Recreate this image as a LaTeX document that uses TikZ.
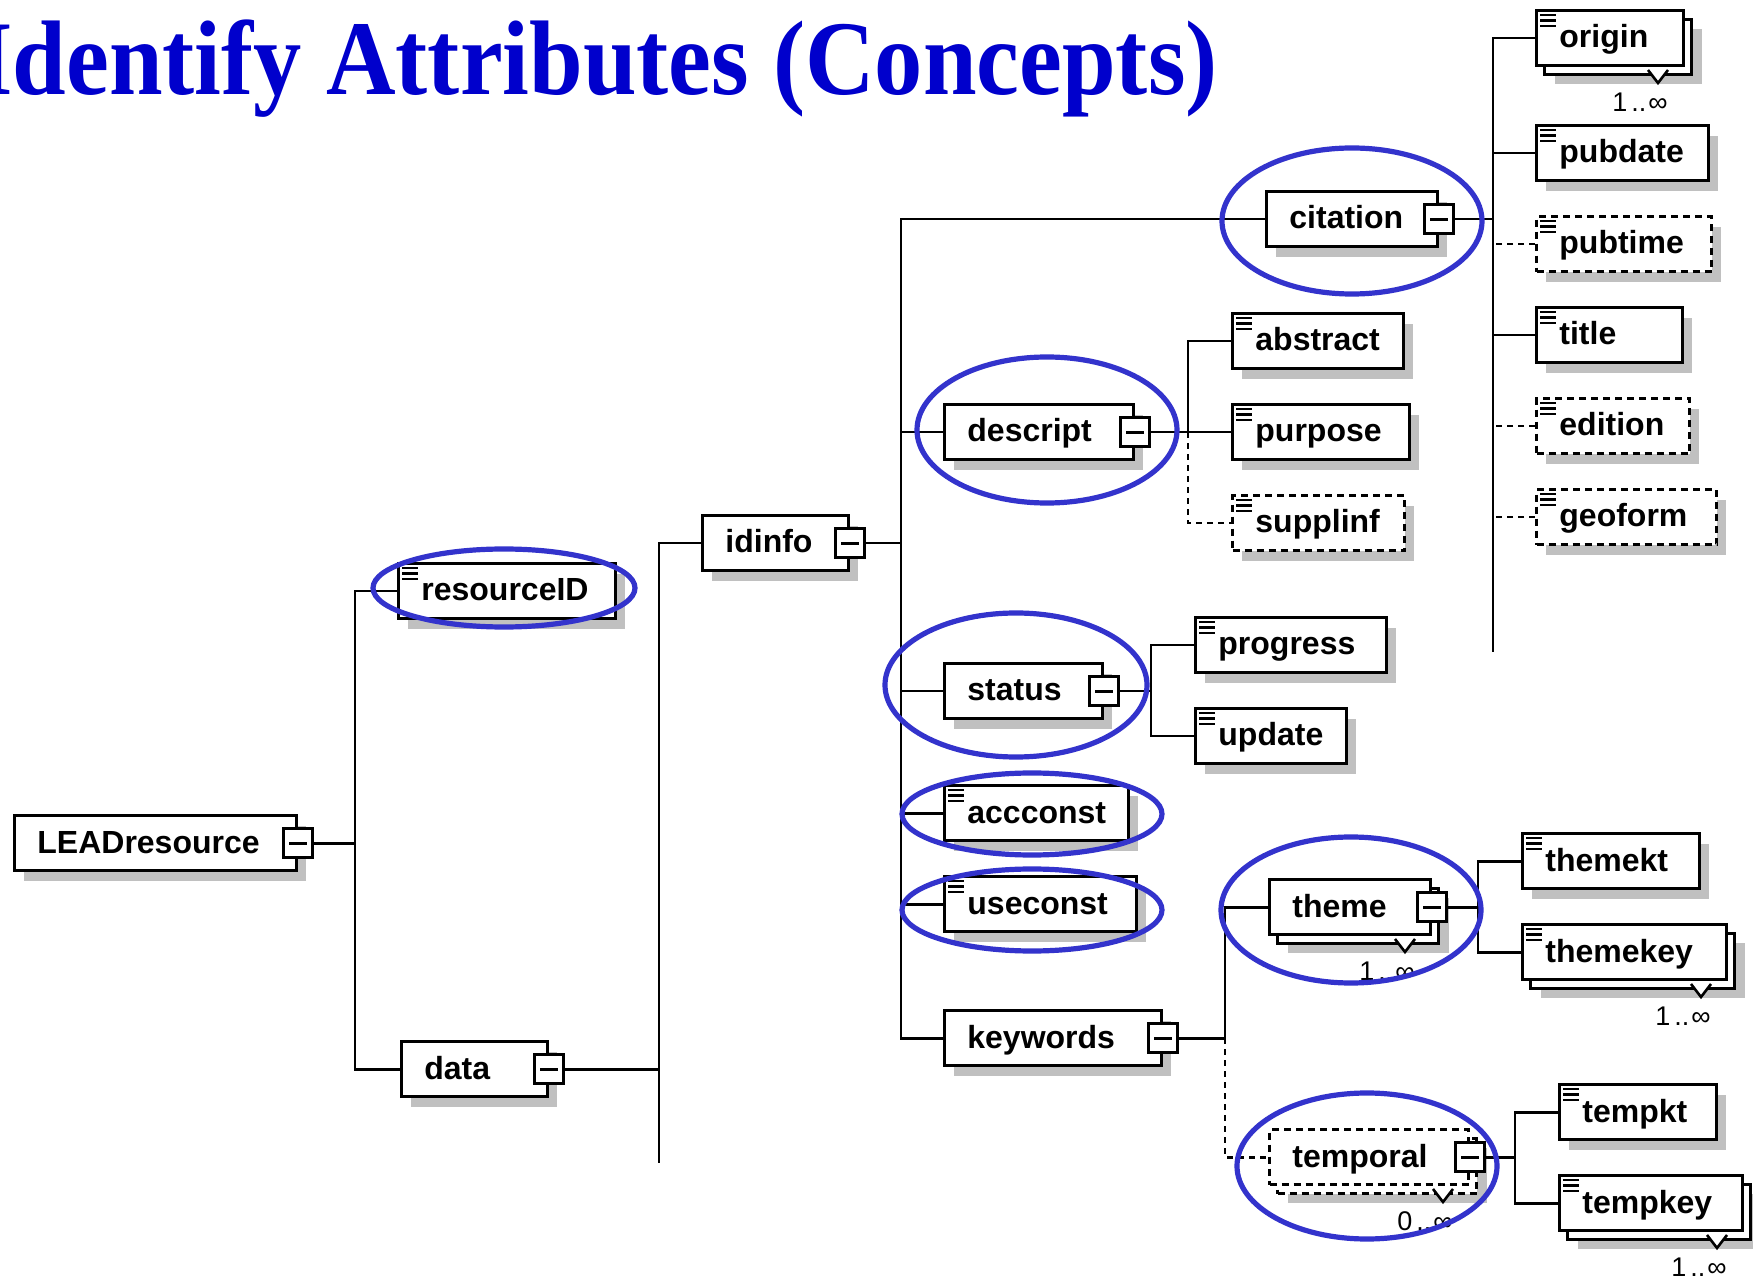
\documentclass[tikz,border=0pt]{standalone}
\usepackage{fontspec}
\setmainfont{Liberation Sans}
\newfontfamily\titlefont{Liberation Serif}
\usepackage{graphicx}
\definecolor{shadowc}{RGB}{192,192,192}
\definecolor{hiblue}{RGB}{51,51,204}
\definecolor{titleblue}{RGB}{0,0,204}
% element box: [opts]{name}{x}{y}{w}{text}
\newcommand\elem[6][]{%
  \fill[shadowc] (#3+11,#4+12) rectangle (#3+#5+11,#4+67);
  \node[ebox,#1,minimum width=#5*0.5pt] (#2) at (#3,#4) {};
  \node[etext] (#2-t) at (#3+24,#4+39) {#6};
}
% repeated element: [opts]{name}{x}{y}{w}{text}{multiplicity}
\newcommand\stackel[7][]{%
  \fill[shadowc] (#3+20,#4+20) rectangle (#3+#5+20,#4+75);
  \node[ebox,#1,minimum width=#5*0.5pt] (#2-b) at (#3+8,#4+9) {};
  \draw[line width=1.3pt,fill=white] (#3+#5-34,#4+61) -- (#3+#5-24,#4+74) -- (#3+#5-14,#4+61);
  \node[ebox,#1,minimum width=#5*0.5pt] (#2) at (#3,#4) {};
  \node[etext] (#2-t) at (#3+24,#4+39) {#6};
  \node[mult] (#2-n) at (#3+#5-14,#4+93) {#7};
}
\newcommand\icon[2]{%
  \draw[line width=1.3pt] (#1+5,#2+6) -- ++(16,0) (#1+5,#2+11.5) -- ++(16,0) (#1+5,#2+17) -- ++(16,0);
}
\begin{document}
\begin{tikzpicture}[x=0.5pt,y=-0.5pt,
  ebox/.style={draw,fill=white,line width=1.7pt,minimum height=27.5pt,inner sep=0pt,anchor=north west},
  optbox/.style={dash pattern=on 3.5pt off 2.5pt},
  etext/.style={font=\fontsize{16}{19}\selectfont\bfseries,inner sep=0pt,anchor=base west},
  minusb/.style={draw,fill=white,line width=1.5pt,minimum size=14.5pt,inner sep=0pt,
    path picture={\draw[line width=1.4pt] ([xshift=-4.5pt]path picture bounding box.center) -- ([xshift=4.5pt]path picture bounding box.center);}},
  conn/.style={line width=1.3pt},
  dconn/.style={conn,dash pattern=on 3pt off 2.5pt},
  hilite/.style={draw=hiblue,line width=2.6pt},
  mult/.style={font=\fontsize{13.5}{15}\selectfont,inner sep=0pt,anchor=east}]
\fill[white] (0,0) rectangle (1753,1278);
\useasboundingbox (0,0) rectangle (1753,1278);

\node[anchor=base west,inner sep=0pt,text=titleblue] (heading) at (-25,95)
  {\scalebox{1}[1.1]{\titlefont\bfseries\fontsize{48.2}{50}\selectfont Identify Attributes (Concepts)}};

% elements
\elem{LEAD}{13}{814}{282}{LEADresource}
\elem{resourceID}{397}{562}{217}{resourceID}\icon{397}{562}
\elem{data}{400}{1040}{146}{data}
\elem{idinfo}{701}{514}{146}{idinfo}
\elem{citation}{1265}{190}{171}{citation}
\elem{descript}{943}{403}{189}{descript}
\elem{status}{943}{662}{158}{status}
\elem{accconst}{943}{784}{184}{accconst}\icon{943}{784}
\elem{useconst}{943}{875}{192}{useconst}\icon{943}{875}
\elem{keywords}{943}{1009}{217}{keywords}
\stackel{origin}{1535}{9}{147}{origin}{1\kern2pt..\kern1pt∞}\icon{1535}{9}
\elem{pubdate}{1535}{124}{172}{pubdate}\icon{1535}{124}
\elem[optbox]{pubtime}{1535}{215}{175}{pubtime}\icon{1535}{215}
\elem{title}{1535}{306}{146}{title}\icon{1535}{306}
\elem[optbox]{edition}{1535}{397}{153}{edition}\icon{1535}{397}
\elem[optbox]{geoform}{1535}{488}{180}{geoform}\icon{1535}{488}
\elem{abstract}{1231}{312}{171}{abstract}\icon{1231}{312}
\elem{purpose}{1231}{403}{177}{purpose}\icon{1231}{403}
\elem[optbox]{supplinf}{1231}{494}{172}{supplinf}\icon{1231}{494}
\elem{progress}{1194}{616}{191}{progress}\icon{1194}{616}
\elem{update}{1194}{707}{151}{update}\icon{1194}{707}
\stackel{theme}{1268}{878}{161}{theme}{1\kern2pt..\kern1pt∞}
\elem{themekt}{1521}{832}{177}{themekt}\icon{1521}{832}
\stackel{themekey}{1521}{923}{204}{themekey}{1\kern2pt..\kern1pt∞}\icon{1521}{923}
\stackel[optbox]{temporal}{1268}{1128}{199}{temporal}{0\kern2pt..\kern1pt∞}
\elem{tempkt}{1558}{1083}{157}{tempkt}\icon{1558}{1083}
\stackel{tempkey}{1558}{1174}{183}{tempkey}{1\kern2pt..\kern1pt∞}\icon{1558}{1174}

% trunk positions
\coordinate (k1) at (355,0);
\coordinate (k2) at (659,0);
\coordinate (k2end) at (659,1163);
\coordinate (k3) at (901,0);
\coordinate (k4) at (1493,0);
\coordinate (k4end) at (1493,652);
\coordinate (k5) at (1188,0);
\coordinate (k6) at (1151,0);
\coordinate (k7) at (1225,0);
\coordinate (k8) at (1478,0);
\coordinate (k9) at (1515,0);

% connectors
\draw[conn] (resourceID.west) -- (resourceID.west -| k1) -- (data.west -| k1) -- (data.west);
\draw[conn] (LEAD.east) -- (LEAD.east -| k1);
\draw[conn] (idinfo.west) -- (idinfo.west -| k2) -- (k2end);
\draw[conn] (data.east) -- (data.east -| k2);
\draw[conn] (citation.west) -- (citation.west -| k3) -- (keywords.west -| k3) -- (keywords.west);
\draw[conn] (idinfo.east) -- (idinfo.east -| k3);
\draw[conn] (descript.west) -- (descript.west -| k3);
\draw[conn] (status.west) -- (status.west -| k3);
\draw[conn] (accconst.west) -- (accconst.west -| k3);
\draw[conn] (useconst.west) -- (useconst.west -| k3);
% citation children
\draw[conn] (origin.west) -- (origin.west -| k4) -- (k4end);
\draw[conn] (citation.east) -- (citation.east -| k4);
\draw[conn] (pubdate.west) -- (pubdate.west -| k4);
\draw[dconn] (pubtime.west) -- (pubtime.west -| k4);
\draw[conn] (title.west) -- (title.west -| k4);
\draw[dconn] (edition.west) -- (edition.west -| k4);
\draw[dconn] (geoform.west) -- (geoform.west -| k4);
% descript children
\draw[conn] (abstract.west) -- (abstract.west -| k5) -- (purpose.west -| k5) -- (purpose.west);
\draw[conn] (descript.east) -- (purpose.west -| k5);
\draw[dconn] (purpose.west -| k5) -- (supplinf.west -| k5) -- (supplinf.west);
% status children
\draw[conn] (progress.west) -- (progress.west -| k6) -- (update.west -| k6) -- (update.west);
\draw[conn] (status.east) -- (status.east -| k6);
% keywords children
\draw[conn] (theme.west) -- (theme.west -| k7) -- (keywords.east -| k7) -- (keywords.east);
\draw[dconn] (keywords.east -| k7) -- (temporal.west -| k7) -- (temporal.west);
% theme children
\draw[conn] (themekt.west) -- (themekt.west -| k8) -- (themekey.west -| k8) -- (themekey.west);
\draw[conn] (theme.east) -- (theme.east -| k8);
% temporal children
\draw[conn] (tempkt.west) -- (tempkt.west -| k9) -- (tempkey.west -| k9) -- (tempkey.west);
\draw[conn] (temporal.east) -- (temporal.east -| k9);

% collapse buttons
\foreach \n in {LEAD,data,idinfo,citation,descript,status,keywords,theme,temporal}
  \node[minusb] (\n-m) at (\n.east) {};

% highlight ellipses
\draw[hilite] (504,588) ellipse [x radius=131, y radius=39];
\draw[hilite] (1352,221) ellipse [x radius=130, y radius=73];
\draw[hilite] (1047,430) ellipse [x radius=130, y radius=73];
\draw[hilite] (1016,685) ellipse [x radius=131, y radius=72];
\draw[hilite] (1032,814) ellipse [x radius=130, y radius=41];
\draw[hilite] (1032,910) ellipse [x radius=130, y radius=41];
\draw[hilite] (1351,910) ellipse [x radius=130, y radius=73];
\draw[hilite] (1367,1166) ellipse [x radius=130, y radius=73];
\end{tikzpicture}
\end{document}
